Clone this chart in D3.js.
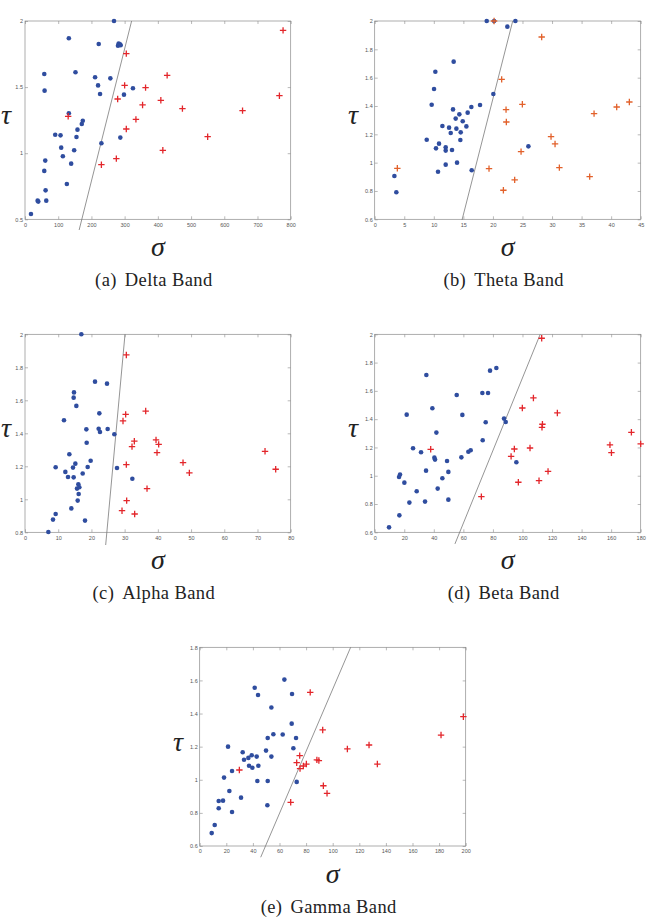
<!DOCTYPE html>
<html><head><meta charset="utf-8">
<script src="https://cdn.jsdelivr.net/npm/d3@7"></script>
<style>body{margin:0;background:#fff}svg{display:block}</style>
</head><body>
<svg id="chart" width="648" height="920"></svg>
<script>
// ---------- DATA ----------
const deltaBlue = [[268,2.0],[132,1.869],[222,1.826],[282,1.829],[286,1.824],[280,1.813],[288,1.816],[58,1.599],[152,1.612],[211,1.574],[257,1.566],[220,1.513],[226,1.448],[325,1.491],[298,1.443],[59,1.473],[132,1.302],[174,1.246],[171,1.221],[158,1.178],[155,1.123],[91,1.140],[107,1.135],[109,1.042],[114,0.977],[148,1.022],[139,0.921],[230,1.075],[287,1.118],[61,0.944],[58,0.866],[126,0.767],[62,0.719],[38,0.641],[40,0.634],[64,0.641],[18,0.540]];
const deltaRed = [[305,1.753],[300,1.513],[363,1.496],[279,1.410],[354,1.365],[334,1.256],[305,1.183],[130,1.279],[275,0.959],[230,0.913],[409,1.400],[428,1.589],[474,1.337],[415,1.022],[550,1.125],[655,1.322],[766,1.435],[777,1.929]];
const deltaLine = [[163,0.419],[321,2.0]];
const deltaXTicks = [0,100,200,300,400,500,600,700,800];
const deltaYTicks = [0.5,1,1.5,2];

const thetaBlue = [[18.95,2.0],[20.2,2.0],[23.8,2.0],[22.44,1.960],[13.36,1.713],[10.26,1.642],[10.04,1.520],[20.07,1.485],[9.64,1.409],[17.82,1.407],[16.35,1.393],[15.73,1.353],[13.25,1.376],[14.32,1.341],[13.70,1.311],[14.89,1.292],[11.45,1.259],[12.58,1.247],[15.51,1.256],[13.82,1.240],[12.86,1.209],[14.55,1.214],[14.49,1.160],[8.80,1.162],[10.88,1.134],[10.37,1.101],[12.01,1.108],[12.01,1.085],[13.08,1.089],[12.01,0.986],[13.93,1.000],[10.71,0.936],[16.41,0.946],[3.33,0.906],[3.66,0.791],[26.0,1.115]];
const thetaRed = [[3.83,0.960],[19.34,0.958],[20.2,2.0],[28.25,1.887],[21.48,1.588],[22.22,1.374],[24.98,1.412],[22.27,1.287],[37.11,1.346],[40.94,1.393],[43.08,1.428],[29.83,1.184],[30.51,1.132],[24.76,1.078],[31.24,0.965],[36.37,0.901],[23.68,0.878],[21.77,0.805]];
const thetaLine = [[14.77,0.595],[23.35,2.0]];
const thetaXTicks = [0,5,10,15,20,25,30,35,40,45];
const thetaYTicks = [0.6,0.8,1,1.2,1.4,1.6,1.8,2];

const alphaBlue = [[16.96,2.0],[21.08,1.713],[24.69,1.701],[14.75,1.648],[14.65,1.616],[15.46,1.566],[11.74,1.479],[22.38,1.521],[22.18,1.428],[22.58,1.408],[24.89,1.426],[18.47,1.424],[26.90,1.394],[18.57,1.343],[13.35,1.273],[19.77,1.234],[15.16,1.216],[14.45,1.192],[18.87,1.196],[9.23,1.194],[12.15,1.166],[12.95,1.135],[14.65,1.133],[17.37,1.156],[27.70,1.190],[32.32,1.125],[16.06,1.091],[15.66,1.065],[16.36,1.073],[16.16,1.032],[15.86,0.992],[13.95,0.945],[9.23,0.911],[8.43,0.877],[18.07,0.871],[7.03,0.802]];
const alphaRed = [[30.51,1.875],[30.31,1.515],[29.51,1.475],[36.34,1.535],[32.92,1.352],[32.22,1.319],[39.45,1.360],[40.25,1.333],[39.75,1.283],[30.51,1.210],[36.74,1.065],[30.61,0.992],[29.21,0.931],[33.02,0.911],[47.58,1.222],[49.49,1.160],[72.27,1.291],[75.48,1.182]];
const alphaLine = [[24.29,0.723],[30.11,2.0]];
const alphaXTicks = [0,10,20,30,40,50,60,70,80];
const alphaYTicks = [0.8,1,1.2,1.4,1.6,1.8,2];

const betaBlue = [[34.96,1.712],[55.49,1.571],[72.86,1.585],[76.69,1.585],[78.05,1.743],[82.33,1.762],[39.02,1.477],[21.65,1.432],[59.32,1.430],[41.73,1.305],[75.11,1.378],[73.08,1.251],[25.94,1.194],[31.35,1.166],[40.38,1.128],[40.83,1.114],[58.65,1.130],[63.38,1.170],[64.96,1.180],[48.95,1.104],[49.85,1.027],[34.74,1.036],[17.14,1.008],[16.47,0.991],[20.08,0.951],[45.79,0.982],[28.42,0.890],[42.63,0.909],[23.46,0.810],[34.06,0.817],[49.85,0.831],[16.69,0.720],[9.70,0.635],[87.52,1.404],[88.65,1.380],[95.86,1.095]];
const betaRed = [[37.89,1.187],[72.18,0.852],[113.0,1.972],[107.4,1.550],[99.9,1.479],[123.6,1.444],[113.5,1.364],[113.2,1.342],[94.5,1.189],[105.1,1.196],[92.3,1.137],[117.3,1.031],[111.2,0.965],[97.2,0.954],[173.7,1.307],[159.2,1.218],[160.2,1.163],[180.0,1.225]];
const betaLine = [[54.3,0.518],[112,2.0]];
const betaXTicks = [0,20,40,60,80,100,120,140,160,180];
const betaYTicks = [0.6,0.8,1,1.2,1.4,1.6,1.8,2];

const gammaBlue = [[41.35,1.556],[43.86,1.512],[63.66,1.605],[69.42,1.518],[53.88,1.436],[69.17,1.339],[55.39,1.275],[51.13,1.252],[62.41,1.273],[72.43,1.252],[70.43,1.190],[49.87,1.176],[53.88,1.140],[42.86,1.140],[39.10,1.148],[36.59,1.132],[32.33,1.166],[33.33,1.121],[37.09,1.085],[39.60,1.073],[44.11,1.085],[21.30,1.200],[24.31,1.053],[43.36,0.993],[51.13,0.993],[72.93,0.987],[18.30,1.013],[22.31,0.932],[14.29,0.872],[17.54,0.874],[31.08,0.892],[14.29,0.828],[24.31,0.805],[50.88,0.846],[11.28,0.727],[9.02,0.678]];
const gammaRed = [[29.82,1.059],[83.1,1.528],[75.19,1.146],[72.93,1.103],[75.44,1.067],[77.94,1.083],[80.20,1.095],[88.1,1.120],[89.6,1.116],[68.42,0.864],[92.48,1.301],[92.98,0.964],[95.74,0.918],[111.03,1.186],[127.32,1.210],[133.58,1.095],[181.45,1.270],[198.25,1.381]];
const gammaLine = [[45.86,0.532],[113.5,1.8]];
const gammaXTicks = [0,20,40,60,80,100,120,140,160,180,200];
const gammaYTicks = [0.6,0.8,1,1.2,1.4,1.6,1.8];

const captions = ["(a)", "(b)", "(c)", "(d)", "(e)"];
const bandNames = ["Delta Band", "Theta Band", "Alpha Band", "Beta Band", "Gamma Band"];

// ---------- LAYOUT ----------
const svg = d3.select("#chart");
const BLUE = "#2f4d9f", RED = "#e3262b", ORANGE = "#e2612b";

const panels = [
  {blue: deltaBlue, red: deltaRed, line: deltaLine, xt: deltaXTicks, yt: deltaYTicks, red_c: RED,
   L: 25, R: 290.7, T: 21, B: 219.3, tauX: 6},
  {blue: thetaBlue, red: thetaRed, line: thetaLine, xt: thetaXTicks, yt: thetaYTicks, red_c: ORANGE,
   L: 374.7, R: 640.7, T: 21, B: 219.3, tauX: 353},
  {blue: alphaBlue, red: alphaRed, line: alphaLine, xt: alphaXTicks, yt: alphaYTicks, red_c: RED,
   L: 25, R: 290.7, T: 334.3, B: 532.3, tauX: 6},
  {blue: betaBlue, red: betaRed, line: betaLine, xt: betaXTicks, yt: betaYTicks, red_c: RED,
   L: 374.7, R: 640.7, T: 334.3, B: 532.3, tauX: 353},
  {blue: gammaBlue, red: gammaRed, line: gammaLine, xt: gammaXTicks, yt: gammaYTicks, red_c: RED,
   L: 199.7, R: 465.7, T: 647.3, B: 846, tauX: 178}
];

panels.forEach((p, i) => {
  const g = svg.append("g");
  const x = d3.scaleLinear().domain(d3.extent(p.xt)).range([p.L, p.R]);
  const y = d3.scaleLinear().domain(d3.extent(p.yt)).range([p.B, p.T]);
  const fmt = d3.format("");

  const styleAxis = sel => {
    sel.select(".domain").remove();
    sel.selectAll(".tick line").attr("stroke", "#8a8a8a").attr("stroke-width", 0.6);
    sel.selectAll("text").attr("font-family", "Liberation Sans, Arial, sans-serif")
      .attr("font-size", 5.5).attr("fill", "#555");
  };

  g.append("g").attr("transform", `translate(0,${p.B})`)
    .call(d3.axisBottom(x).tickValues(p.xt).tickSize(-3).tickPadding(3.5).tickFormat(fmt)).call(styleAxis);
  g.append("g").attr("transform", `translate(0,${p.T})`)
    .call(d3.axisTop(x).tickValues(p.xt).tickSize(-3).tickFormat("")).call(styleAxis);
  g.append("g").attr("transform", `translate(${p.L},0)`)
    .call(d3.axisLeft(y).tickValues(p.yt).tickSize(-3).tickPadding(2).tickFormat(fmt)).call(styleAxis);
  g.append("g").attr("transform", `translate(${p.R},0)`)
    .call(d3.axisRight(y).tickValues(p.yt).tickSize(-3).tickFormat("")).call(styleAxis);

  g.append("rect").attr("x", p.L).attr("y", p.T).attr("width", p.R - p.L).attr("height", p.B - p.T)
    .attr("fill", "none").attr("stroke", "#8a8a8a").attr("stroke-width", 0.7);

  // separating line
  g.append("path").datum(p.line)
    .attr("d", d3.line().x(d => x(d[0])).y(d => y(d[1])))
    .attr("stroke", "#7a7a7a").attr("stroke-width", 0.8).attr("fill", "none");

  // blue dots
  g.append("g").selectAll("circle").data(p.blue).join("circle")
    .attr("cx", d => x(d[0])).attr("cy", d => y(d[1])).attr("r", 2.3).attr("fill", BLUE);

  // red plus markers
  const s = 3.2;
  g.append("g").selectAll("path").data(p.red).join("path")
    .attr("d", d => { const cx = x(d[0]), cy = y(d[1]);
      return `M${cx - s},${cy}H${cx + s}M${cx},${cy - s}V${cy + s}`; })
    .attr("stroke", p.red_c).attr("stroke-width", 1.3).attr("fill", "none");

  const cx = (p.L + p.R) / 2;
  // sigma label
  g.append("text").attr("x", cx).attr("y", p.B + 37).attr("text-anchor", "middle")
    .attr("font-family", "Liberation Serif, Times New Roman, serif").attr("font-style", "italic")
    .attr("font-size", 28).attr("fill", "#222").text("σ");
  // tau label
  g.append("text").attr("x", p.tauX).attr("y", (p.T + p.B) / 2 + 4).attr("text-anchor", "middle")
    .attr("font-family", "Liberation Serif, Times New Roman, serif").attr("font-style", "italic")
    .attr("font-size", 28).attr("fill", "#222").text("τ");
  // caption
  const cap = g.append("text").attr("x", cx - 4).attr("y", p.B + 67).attr("text-anchor", "middle")
    .attr("font-family", "Liberation Serif, Times New Roman, serif")
    .attr("font-size", 18.5).attr("fill", "#222").attr("letter-spacing", 0.4);
  cap.append("tspan").text(captions[i]);
  cap.append("tspan").attr("dx", 8).text(bandNames[i]);
});
</script>
</body></html>
